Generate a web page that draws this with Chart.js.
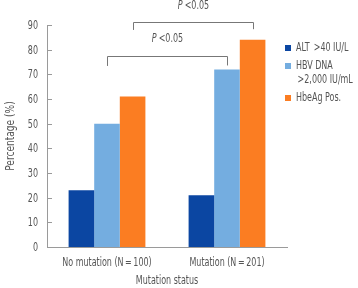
<!DOCTYPE html>
<html>
<head>
<meta charset="utf-8">
<script src="https://cdn.jsdelivr.net/npm/chart.js@4.4.0/dist/chart.umd.min.js"></script>
<style>
  html, body { margin: 0; padding: 0; background: #fff; }
  #wrap { width: 358px; height: 288px; position: relative; }
</style>
</head>
<body>
<div id="wrap"><canvas id="chart"></canvas></div>
<script>
// Dati del grafico
const categories = ["No mutation (N\u2009=\u2009100)", "Mutation (N\u2009=\u2009201)"];
const seriesNames = ["ALT >40 IU/L", "HBV DNA >2,000 IU/mL", "HbeAg Pos."];
const altValues = [23, 21];
const hbvDnaValues = [50, 72];
const hbeagValues = [61, 84];
const yTicks = [0, 10, 20, 30, 40, 50, 60, 70, 80, 90];
const legendLines = [["ALT \u2009>40 IU/L"], ["HBV DNA", "\u2009>2,000 IU/mL"], ["HbeAg Pos."]];
const xTitle = "Mutation status";
const yTitle = "Percentage (%)";
// parentesi di significatività: dataset confrontato tra i due gruppi
const brackets = [
  { dataset: 1, label: "<0.05", level: 77.4, leg: [73.4, 73.6], text: 84.3 },
  { dataset: 2, label: "<0.05", level: 91.2, leg: [88, 88.3], text: 97.6 },
];

const colors = ["#0b46a2", "#74ade0", "#fb7d22"];
const FONT = "'DejaVu Sans Condensed', 'DejaVu Sans', sans-serif";
const SIZE = 12;
const SX = 0.74; // compressione orizzontale per imitare il font stretto
const TEXT = "#555";
const AXIS = "#9a9a9a";

// testo condensato
const drawText = (ctx, str, x, y, align, opts = {}) => {
  ctx.save();
  ctx.translate(x, y);
  if (opts.rotate) ctx.rotate(-Math.PI / 2);
  ctx.scale(opts.sx || SX, 1);
  ctx.font = (opts.italic ? "italic " : "") + SIZE + "px " + FONT;
  ctx.textAlign = align;
  ctx.textBaseline = "middle";
  ctx.fillStyle = TEXT;
  ctx.fillText(str, 0, 0);
  ctx.restore();
};

const textWidth = (ctx, str, italic) => {
  ctx.save();
  ctx.font = (italic ? "italic " : "") + SIZE + "px " + FONT;
  const w = ctx.measureText(str).width * SX;
  ctx.restore();
  return w;
};

// Tacche interne, etichette, parentesi e legenda
const overlayPlugin = {
  id: "overlay",
  afterDraw(chart) {
    const ctx = chart.ctx;
    const x = chart.scales.x;
    const y = chart.scales.y;
    const area = chart.chartArea;
    ctx.save();
    ctx.strokeStyle = AXIS;
    ctx.lineWidth = 1;
    yTicks.forEach((v) => {
      const py = Math.round(y.getPixelForValue(v)) + 0.5;
      ctx.beginPath();
      ctx.moveTo(area.left, py);
      ctx.lineTo(area.left + 5, py);
      ctx.stroke();
      drawText(ctx, String(v), area.left - 9, py, "right");
    });

    categories.forEach((c, i) => {
      drawText(ctx, c, x.getPixelForValue(i), area.bottom + 16, "center");
    });
    drawText(ctx, xTitle, (area.left + area.right) / 2, area.bottom + 34, "center");
    drawText(ctx, yTitle, 11, (area.top + area.bottom) / 2, "center", { rotate: true, sx: 0.84 });

    // parentesi
    ctx.strokeStyle = "#777";
    brackets.forEach((b) => {
      const bars = chart.getDatasetMeta(b.dataset).data;
      const x1 = Math.round(bars[0].x) + 0.5;
      const x2 = Math.round(bars[1].x) + 0.5;
      const yl = Math.round(y.getPixelForValue(b.level)) + 0.5;
      ctx.beginPath();
      ctx.moveTo(x1, y.getPixelForValue(b.leg[0]));
      ctx.lineTo(x1, yl);
      ctx.lineTo(x2, yl);
      ctx.lineTo(x2, y.getPixelForValue(b.leg[1]));
      ctx.stroke();

      const ty = y.getPixelForValue(b.text);
      const wP = textWidth(ctx, "P", true);
      const wRest = textWidth(ctx, b.label, false);
      const start = (x1 + x2) / 2 - (wP + 2 + wRest) / 2;
      drawText(ctx, "P", start, ty, "left", { italic: true });
      drawText(ctx, b.label, start + wP + 2, ty, "left");
    });

    // legenda
    const rows = [48, 66, 98];
    legendLines.forEach((lines, i) => {
      ctx.fillStyle = colors[i];
      ctx.fillRect(285, rows[i] - 3, 6, 6);
      lines.forEach((t, k) => drawText(ctx, t, 296, rows[i] + k * 14, "left"));
    });
    ctx.restore();
  },
};

const ctx = document.getElementById("chart").getContext("2d");
new Chart(ctx, {
  type: "bar",
  data: {
    labels: categories,
    datasets: [
      { label: seriesNames[0], data: altValues, backgroundColor: colors[0] },
      { label: seriesNames[1], data: hbvDnaValues, backgroundColor: colors[1] },
      { label: seriesNames[2], data: hbeagValues, backgroundColor: colors[2] },
    ],
  },
  options: {
    responsive: true,
    maintainAspectRatio: false,
    animation: false,
    layout: { padding: { top: 25, right: 71, left: 0, bottom: 0 } },
    datasets: { bar: { categoryPercentage: 0.64, barPercentage: 1 } },
    plugins: {
      legend: { display: false },
      tooltip: { enabled: false },
    },
    scales: {
      x: {
        grid: { display: false },
        border: { display: true, color: AXIS, width: 1 },
        ticks: { display: false },
        afterFit: (scale) => { scale.height = 41; },
      },
      y: {
        min: 0,
        max: 90,
        grid: { display: false },
        border: { display: true, color: AXIS, width: 1 },
        ticks: { display: false, stepSize: 10 },
        afterFit: (scale) => { scale.width = 47; },
      },
    },
  },
  plugins: [overlayPlugin],
});
</script>
</body>
</html>
